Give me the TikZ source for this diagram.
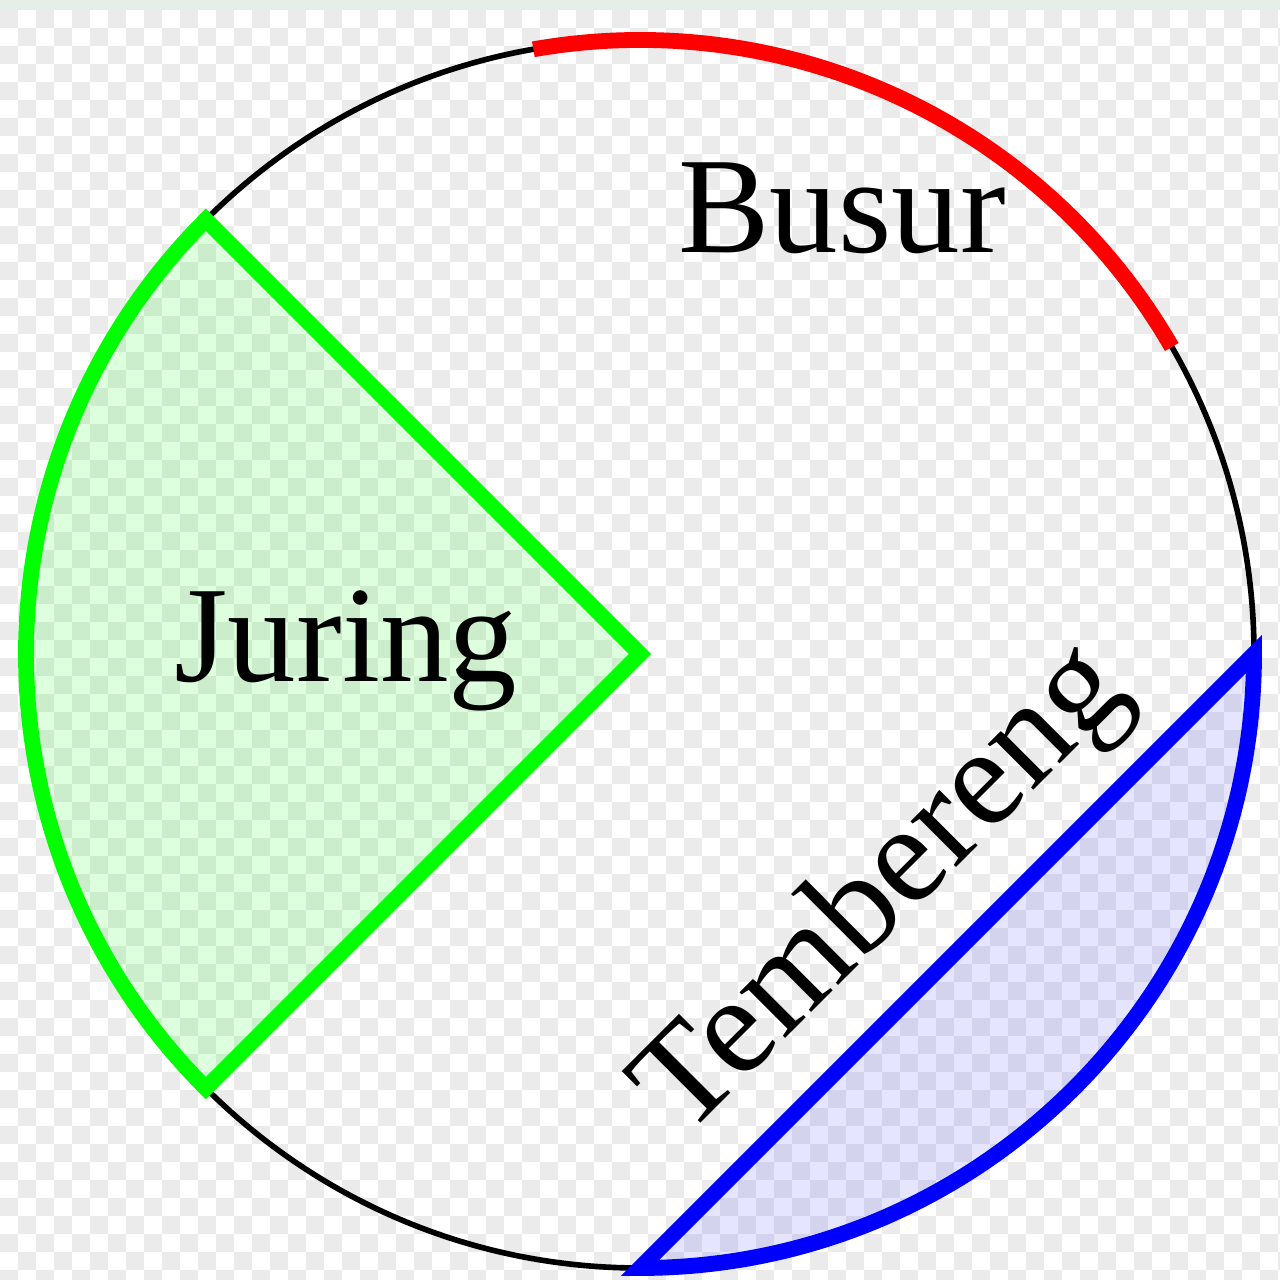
\documentclass[tikz,border=0pt]{standalone}
\usepackage{fontspec}
\setmainfont{Liberation Serif}
\usetikzlibrary{positioning}
\definecolor{checkgrey}{HTML}{EBEBEB}
\definecolor{topstrip}{HTML}{E6EEEA}
\tikzset{
  label text/.style = {font = \fontsize{39}{41}\selectfont, inner sep = 0pt},
  circle line/.style = {black, line width = 1.6pt},
  part line/.style = {line width = 4.5pt, line join = miter},
}
\begin{document}
\begin{tikzpicture}
	\def\r{6.14}
	\useasboundingbox (-6.40, -6.26) rectangle (6.40, 6.54);
	% checkered background
	\begin{scope}
		\clip (-6.40, -6.26) rectangle (6.40, 6.54);
		\fill [white] (-6.40, -6.26) rectangle (6.40, 6.54);
		\foreach \j in {0, 2, ..., 70} {
			\foreach \i in {0, 2, ..., 70} {
				\fill [checkgrey] ({(18 * \i - 640) / 100}, {(644 - 18 * \j) / 100}) rectangle ++(0.18, -0.18);
				\fill [checkgrey] ({(18 * \i - 622) / 100}, {(626 - 18 * \j) / 100}) rectangle ++(0.18, -0.18);
			}
		}
		\fill [topstrip] (-6.40, 6.44) rectangle (6.40, 6.54);
	\end{scope}
	\coordinate (O) at (0, 0);
	\draw [circle line] (O) circle (\r);
	\draw [part line, red] (30 : \r) arc (30 : 100 : \r);
	\filldraw [part line, green, fill opacity = 0.13] (O) -- (135 : \r) arc (135 : 225 : \r) -- cycle;
	\filldraw [part line, blue, fill opacity = 0.1] (270 : \r) arc (270 : 360 : \r) -- cycle;
	\node [label text, anchor = base] (busur) at (2.02, 4.01) {Busur};
	\node [label text, anchor = base] (juring) at (-2.94, -0.28) {Juring};
	\node [label text, anchor = base, rotate = 45, font = \fontsize{40}{42}\selectfont] (tembereng) at (2.68, -2.62) {Tembereng};
\end{tikzpicture}
\end{document}
